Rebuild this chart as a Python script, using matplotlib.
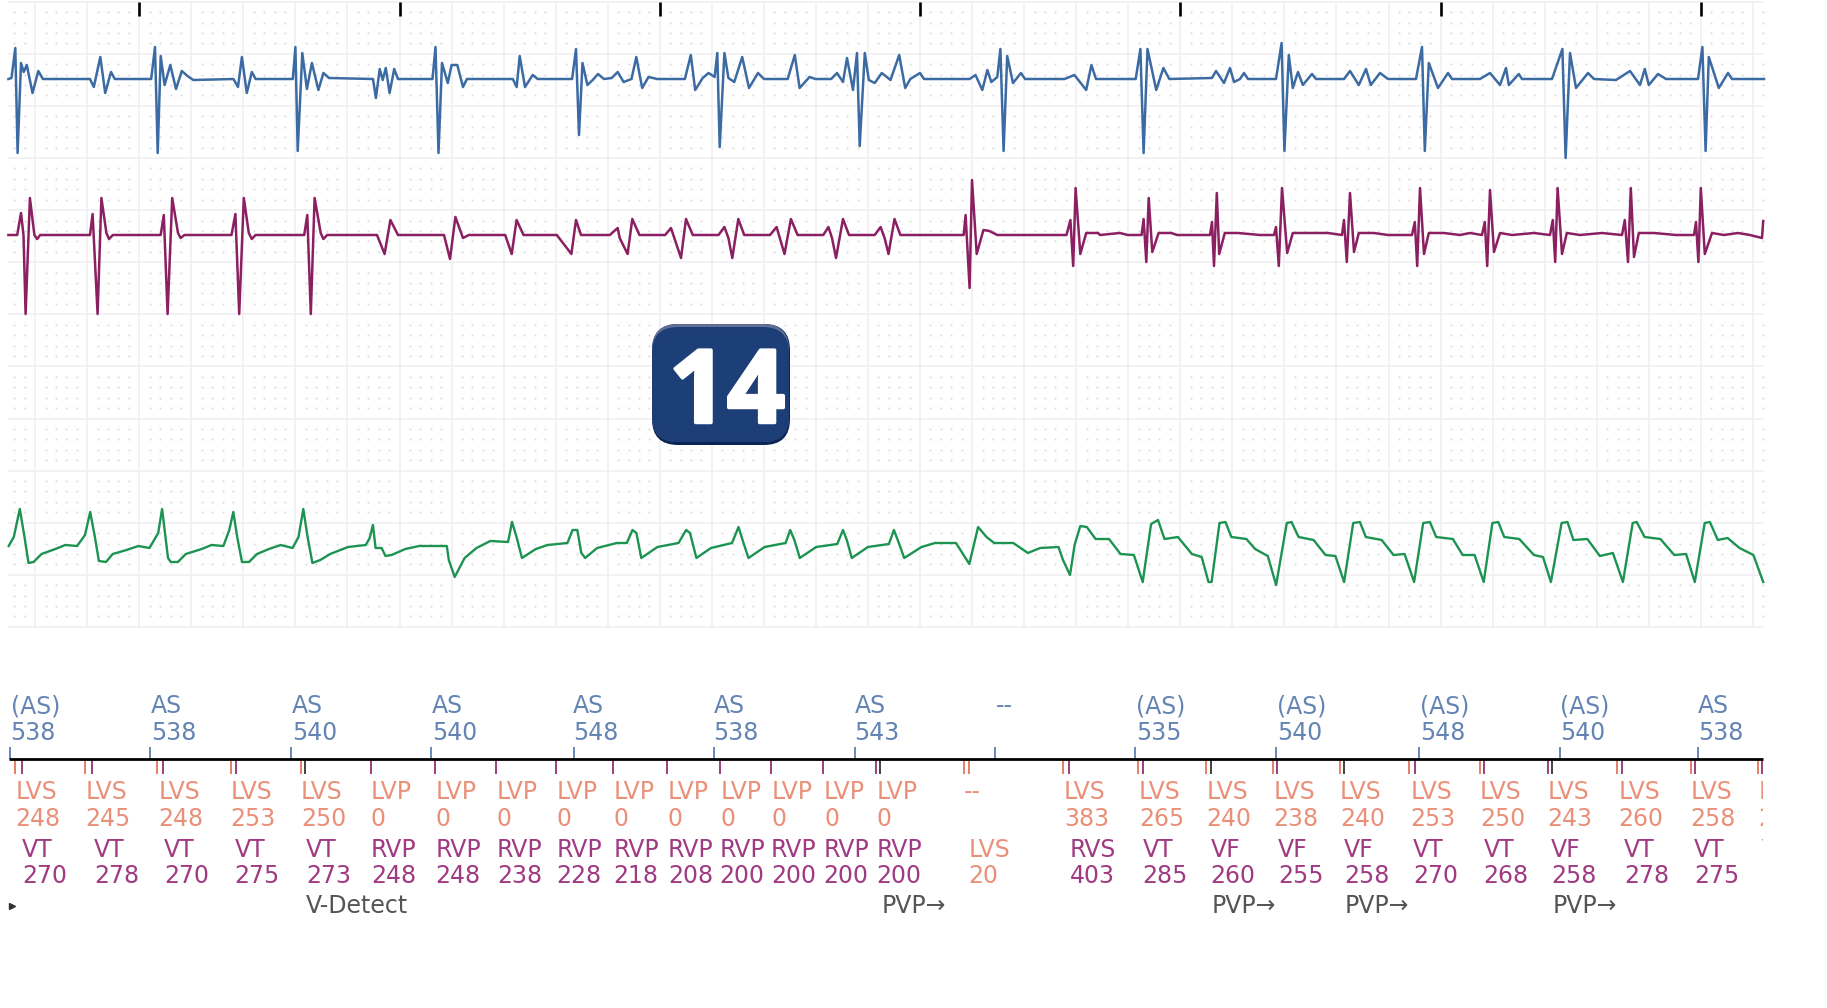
import numpy as np
import matplotlib
matplotlib.use("Agg")
import matplotlib.pyplot as plt
import matplotlib.patheffects as pe
from matplotlib.patches import FancyBboxPatch, Rectangle

# traces (x, y in image pixels)
blue_x = [8.4, 11.5, 15.3, 17.6, 21, 23.7, 26.8, 32.5, 38.3, 42.9, 90, 93.8, 100.3, 105.2, 111, 114.8,
          151.2, 155, 157.7, 160.7, 164.6, 170.3, 176, 181.8, 187.5, 193.3, 233.4, 238, 241.9, 246.8, 251.8, 255.6,
          292.8, 295.4, 297.7, 302.3, 306.9, 311.9, 318.4, 323.4, 329, 373, 375.9, 379.7, 382.7, 385.8, 389.6, 394.2, 398,
          432.5, 435.5, 438.5, 442, 447.8, 451.6, 457.3, 463, 466.9, 512.8, 516.7, 519.7, 525, 532.7, 537.7,
          572.1, 576, 579, 582.5, 587.4, 592.7, 598, 604, 611.7, 617.7, 623.6, 631.5, 636.3, 642.2, 648.5, 657.2,
          684.9, 690.8, 695.2, 702.7, 708.6, 714.6, 717.3, 719.7, 724.4, 728.4, 734.3, 742.2, 749, 758, 764,
          787.7, 794.8, 799.6, 809.5, 815.4, 831.2, 837, 843, 847, 853, 857, 859.7, 864.8, 868.8, 874.7, 881.8, 890.5,
          899.2, 905.2, 910.3, 920, 924, 969.6, 975.5, 982.3, 987.4, 991.3, 997.3, 1000.4, 1003.6, 1007.2, 1013, 1021, 1025,
          1064.5, 1074.4, 1086.2, 1091.4, 1096, 1135.7, 1140.4, 1143.6, 1147.5, 1156.2, 1163.4, 1169.3,
          1212, 1216, 1224, 1230, 1234, 1240, 1244, 1248, 1276, 1281.6, 1284.4, 1288.8, 1292.8, 1298, 1302.8, 1312, 1316,
          1344, 1350, 1358.8, 1366, 1370.8, 1380, 1388, 1416, 1422, 1424.8, 1428.8, 1438, 1448, 1452,
          1480, 1490, 1500, 1506, 1508.8, 1518.8, 1522, 1552, 1562.4, 1565.6, 1570, 1576, 1588, 1594,
          1616, 1630, 1640, 1644.8, 1648.8, 1658, 1666, 1698, 1702.4, 1705.6, 1708.8, 1718.8, 1728, 1732, 1764]
blue_y = [79, 78, 48, 153, 63, 72, 65, 93, 71, 79, 79, 87, 57, 93, 72, 79,
          79, 47, 153, 56, 85, 65, 89, 71, 76, 80, 79, 87, 57, 93, 72, 79,
          79, 47, 151, 53, 89, 63, 90, 73, 78, 79, 98, 69, 80, 68, 93, 69, 79,
          79, 47, 153, 63, 83, 65, 65, 87, 79, 79, 87, 56, 87, 75, 79,
          79, 49, 135, 63, 85, 80, 74, 79, 78, 72, 82, 79, 57, 88, 77, 79,
          79, 55, 90, 78, 73, 77, 53, 147, 53, 78, 82, 57, 88, 73, 79,
          79, 55, 88, 77, 79, 79, 73, 82, 58, 90, 53, 146, 53, 80, 83, 73, 80,
          55, 88, 79, 73, 79, 79, 75, 90, 70, 82, 77, 49, 151, 56, 83, 73, 79,
          79, 75, 90, 65, 79, 79, 49, 153, 49, 90, 68, 79,
          78, 71, 83, 68, 82, 79, 73, 79, 79, 43, 151, 55, 88, 72, 85, 74, 79,
          79, 71, 85, 69, 85, 73, 79, 79, 47, 151, 63, 88, 73, 79,
          79, 73, 85, 68, 85, 74, 79, 79, 49, 158, 53, 88, 73, 79,
          80, 71, 85, 69, 85, 74, 79, 79, 47, 151, 57, 88, 73, 79, 79]

maroon_x = [8.4, 17.2, 21, 23.5, 25.6, 29.9, 34.4, 37.1, 40.2, 90, 92.6, 97.6, 101.4, 106.4, 109, 112.9,
            160.7, 163.8, 167.6, 172.2, 178, 180.6, 184.5, 231.5, 235.4, 239.2, 243.8, 248.8, 251.8, 255.6,
            304.2, 307.3, 310.8, 314.6, 320.7, 323.4, 327.2, 377, 384.6, 390.4, 398, 444, 450, 455.4, 463, 468.8,
            505.2, 511.7, 516.6, 523.5, 556.8, 571.4, 576, 581, 609.8, 617.7, 619.7, 627.6, 632.3, 639.4,
            665.1, 671, 675, 681, 686, 692.8, 718.5, 724.4, 728.4, 732.3, 738.3, 744.2,
            770, 776.6, 779.8, 784.5, 790.9, 797.6, 823.3, 828.4, 832, 836, 843, 849,
            874.7, 880.6, 884.6, 888.5, 894.5, 900.4, 963.7, 965.6, 969.6, 972, 976.7, 983.4, 989.4, 997.3,
            1066.5, 1070.4, 1073.2, 1075.6, 1080.3, 1086.2, 1098, 1100, 1119.9, 1127.8, 1141.6, 1143.6, 1146.3, 1148.7, 1152.3, 1158.6, 1171.3, 1177.2,
            1210, 1212, 1214, 1216.8, 1219.2, 1224.8, 1238, 1260, 1274, 1276, 1278.8, 1282, 1287.2, 1292.8, 1306, 1328, 1342,
            1344, 1346.8, 1350, 1354, 1358.8, 1374, 1388, 1412, 1414.8, 1417.2, 1420, 1424, 1428.8, 1444, 1460, 1470, 1482,
            1484.8, 1487.2, 1490, 1494, 1500, 1512, 1534, 1550, 1552.8, 1555.2, 1557.6, 1562, 1566.8, 1580, 1602, 1622,
            1624.8, 1628, 1630.8, 1634, 1638.8, 1654, 1676, 1694, 1696, 1698.4, 1700.8, 1704.8, 1712, 1724, 1738, 1750, 1762, 1763.2]
maroon_y = [235, 235, 213, 235, 314, 198, 235, 239, 235, 235, 214, 314, 198, 233, 239, 235,
            235, 215, 314, 198, 233, 238, 235, 235, 214, 314, 198, 233, 239, 235,
            235, 215, 314, 198, 233, 239, 235, 235, 254, 220, 235, 235, 259, 217, 238, 235,
            235, 254, 220, 235, 235, 254, 220, 235, 235, 228, 238, 254, 219, 235,
            235, 228, 240, 258, 219, 235, 235, 227, 238, 258, 219, 235,
            235, 227, 238, 254, 219, 235, 235, 227, 238, 258, 219, 235,
            235, 227, 238, 254, 219, 235, 235, 215, 288, 180, 254, 230, 231, 235,
            235, 220, 266, 188, 254, 233, 233, 235, 233, 235, 235, 219, 262, 198, 252, 233, 233, 235,
            235, 222, 266, 193, 254, 233, 233, 235, 235, 227, 266, 188, 253, 233, 233, 233, 235,
            220, 262, 193, 252, 233, 233, 235, 235, 222, 266, 188, 254, 233, 233, 235, 233, 235,
            222, 266, 190, 252, 233, 235, 233, 235, 220, 262, 188, 254, 233, 235, 233, 235,
            220, 262, 188, 257, 233, 233, 235, 235, 222, 262, 188, 254, 233, 235, 233, 235, 238, 221]

green_x = [8.7, 13.8, 19.8, 24.5, 28.5, 33.6, 41.5, 55.4, 65.2, 77.1, 85, 90.2, 94.9, 98.9, 106, 112.7, 126.5, 138.4, 149.5,
           158.2, 162.1, 168, 170.8, 177.9, 185.8, 201.7, 211.5, 223.4, 229.3, 233.3, 237.2, 242, 249, 257, 268.9, 280.7, 292.6,
           298.5, 303.3, 307.6, 312.4, 320.3, 330.2, 348, 365.8, 369.7, 372.9, 375.6, 381.6, 385.5, 391.5, 405.3, 419.1, 446.8,
           448.8, 454.7, 464.6, 476.5, 490.3, 508.1, 512, 516, 522, 535.8, 547.6, 567.4, 572.6, 577.3, 581.3, 585.2, 597.1, 616.8,
           626.8, 632.5, 636.4, 641.3, 657.4, 678.5, 686.1, 690, 696.4, 711, 732, 738.5, 743.5, 748.5, 764.6, 785.6, 790.2, 794.4, 799.8,
           816.2, 837.3, 843, 846.8, 851.8, 867.9, 888.9, 893.9, 898.5, 904.2, 921.5, 934.9, 956, 969.3, 978.1, 986.5, 994.2, 1013.3,
           1027.9, 1040.1, 1058.5, 1063, 1070, 1074.6, 1080.3, 1086.8, 1095.6, 1109, 1120.5, 1133.9, 1142.7, 1151.1, 1158, 1164.5, 1177.9,
           1191.9, 1201.7, 1208.5, 1211.6, 1219.5, 1225.5, 1231.4, 1246.4, 1255.1, 1267.8, 1276.1, 1286.8, 1291.5, 1298.6, 1313.6, 1325.5, 1335.4,
           1344.1, 1353.2, 1359.9, 1365.8, 1381.7, 1393.5, 1404.6, 1414.1, 1423.2, 1429.9, 1436.2, 1452.8, 1462.7, 1474.6,
           1483.7, 1492.4, 1498.3, 1504.2, 1519.3, 1533.9, 1543, 1550.9, 1561.6, 1567.5, 1573.4, 1587.3, 1599.9, 1612.9,
           1622.9, 1632.7, 1636.7, 1644.6, 1660.4, 1674.3, 1686.1, 1694.8, 1704.7, 1709.9, 1717.8, 1727.6, 1739.5, 1753.4, 1763.2]
green_y = [546, 537, 509, 537, 563, 562, 554, 549, 545, 546, 535, 512, 537, 561, 562, 554, 550, 546, 548,
           533, 509, 558, 562, 562, 554, 549, 545, 546, 530, 512, 537, 562, 562, 554, 549, 545, 548,
           537, 509, 537, 563, 560, 554, 547, 545, 538, 525, 548, 548, 556, 555, 549, 546, 546,
           560, 577, 558, 548, 541, 542, 522, 535, 558, 549, 545, 543, 530, 530, 553, 558, 548, 543,
           543, 530, 533, 558, 547, 543, 530, 533, 558, 548, 543, 527, 543, 558, 547, 543, 530, 540, 558,
           547, 544, 530, 540, 558, 547, 544, 530, 542, 558, 547, 543, 543, 564, 527, 537, 543, 543,
           553, 548, 547, 560, 575, 545, 526, 527, 539, 539, 554, 555, 582, 524, 520, 539, 537,
           554, 557, 582, 582, 523, 522, 537, 539, 549, 556, 585, 523, 522, 537, 540, 555, 556,
           582, 523, 522, 537, 540, 555, 554, 582, 523, 522, 537, 539, 555, 555,
           582, 523, 522, 537, 539, 555, 557, 582, 523, 522, 540, 539, 556, 553,
           582, 523, 522, 537, 539, 555, 554, 582, 523, 522, 540, 538, 548, 555, 582]

# annotation rows
atrial_names = ["(AS)", "AS", "AS", "AS", "AS", "AS", "AS", "--", "(AS)", "(AS)", "(AS)", "(AS)", "AS"]
atrial_vals = ["538", "538", "540", "540", "548", "538", "543", "", "535", "540", "548", "540", "538"]
lv_names = ["LVS"] * 5 + ["LVP"] * 10 + ["--"] + ["LVS"] * 11
lv_vals = ["248", "245", "248", "253", "250"] + ["0"] * 10 + ["", "383", "265", "240", "238", "240", "253",
                                                              "250", "243", "260", "258", "250"]
rv_names = ["VT"] * 5 + ["RVP"] * 10 + ["LVS", "RVS", "VT", "VF", "VF", "VF", "VT", "VT", "VF", "VT", "VT", "VT"]
rv_vals = ["270", "278", "270", "275", "273", "248", "248", "238", "228", "218", "208", "200", "200", "200", "200",
           "20", "403", "285", "260", "255", "258", "270", "268", "258", "278", "275", "270"]
event_labels = ["V-Detect", "PVP→", "PVP→", "PVP→", "PVP→"]
badge_label = "14"

# label and tick positions
atrial_text_x = [10.6, 150.8, 291.7, 432, 573, 713.6, 854.5, 996, 1136.5, 1277, 1420, 1560.5, 1698]
atrial_tick_x = [10, 150, 290.5, 431, 574, 714, 855, 995, 1135, 1276, 1419, 1560, 1698]
lv_text_x = [15.3, 85.7, 158.5, 230.6, 301, 370.9, 435.4, 496.5, 556.3, 613.3, 667.8, 720.7, 771.7, 824, 876.2,
             963.9, 1063.8, 1138.9, 1206.3, 1273.2, 1340, 1410.3, 1480.1, 1547.5, 1618.5, 1690.7, 1758.7]
rv_text_x = [22.3, 93.9, 164.3, 234.7, 306.3, 370.9, 435.4, 497, 556.3, 613.3, 667.8, 719.5, 771.1, 823.4, 876.2,
             968.6, 1069.7, 1142.5, 1210.5, 1277.9, 1344.1, 1413.3, 1483.7, 1551.1, 1623.8, 1694.2, 1762.2]
event_x = [306, 881.5, 1212, 1345, 1553]
orange_ticks = [14.7, 85.1, 157.3, 230.6, 301, 963.9, 968.6, 1063.2, 1138.3, 1206.3, 1272.6, 1340, 1409.2, 1480.1,
                1617.3, 1690.7, 1757.5]
maroon_ticks = [21.7, 92.1, 162.6, 235.9, 370.9, 435.4, 495.9, 555.8, 612.7, 667.3, 719.5, 771.1, 823.4, 875.6,
                1068.5, 1142.5, 1276.7, 1414.5, 1484.3, 1548.1, 1622, 1695.4, 1761.6]
black_ticks = [305.2, 880.3, 1211, 1344.1, 1551.7]

BLUE = "#3c6ba3"
MAROON = "#8a1f62"
GREEN = "#1c9350"
BLUE_TXT = "#6485b3"
ORANGE_TXT = "#ea9079"
MAROON_TXT = "#a03a82"
DARK_TXT = "#555555"
FS = 17

fig = plt.figure(figsize=(18.27, 10.08), dpi=100)
ax = fig.add_axes([0, 0, 1, 1])
ax.set_xlim(0, 1827)
ax.set_ylim(1008, 0)
ax.axis("off")

# paper grid
left, right, top, bottom = 8, 1764, 1.7, 627
grid_x = 35.2 + 52.05 * np.arange(0, 34)
grid_y = 1.7 + 52.1 * np.arange(0, 13)
ax.vlines(grid_x, top, bottom, color="#f0f0f2", lw=1.2, zorder=1)
ax.hlines(grid_y, left, right, color="#f0f0f2", lw=1.2, zorder=1)
dot_x = (35.2 + 52.05 * np.arange(-1, 34))[:, None] + 10.41 * np.arange(1, 5)
dot_y = (1.7 + 52.1 * np.arange(0, 12))[:, None] + 10.42 * np.arange(1, 5)
dx, dy = np.meshgrid(dot_x.ravel(), dot_y.ravel())
keep = (dx > left + 4) & (dx < right)
ax.scatter(dx[keep], dy[keep], s=2.4, color="#dedee0", linewidths=0, zorder=1)

# paper speed marks along the top
ax.vlines(grid_x[2::5], 2, 16, color="black", lw=1.9, zorder=2)

ax.plot(blue_x, blue_y, color=BLUE, lw=1.8, zorder=3)
ax.plot(maroon_x, maroon_y, color=MAROON, lw=1.8, zorder=3)
ax.plot(green_x, green_y, color=GREEN, lw=1.7, zorder=3)

# marker channel
ax.hlines(759.3, 9, 1763, color="black", lw=2, zorder=4)
ax.vlines(atrial_tick_x, 747, 759.3, color=BLUE, lw=1.1, zorder=3)
ax.vlines(orange_ticks, 759.3, 774, color="#e0694a", lw=1.2, zorder=3)
ax.vlines(maroon_ticks, 759.3, 774, color=MAROON, lw=1.2, zorder=3)
ax.vlines(black_ticks, 759.3, 774, color="#222222", lw=1.2, zorder=3)

clip = Rectangle((0, 0), 1763, 1008, transform=ax.transData)


def put(x, y, s, color):
    t = ax.text(x, y, s, color=color, fontsize=FS, ha="left", va="baseline", zorder=5)
    t.set_clip_on(True)
    t.set_clip_path(clip)
    return t


for x, name, val in zip(atrial_text_x, atrial_names, atrial_vals):
    put(x, 713.3, name, BLUE_TXT)
    put(x, 740, val, BLUE_TXT)

for x, name, val in zip(lv_text_x, lv_names, lv_vals):
    put(x, 799.3, name, ORANGE_TXT)
    put(x, 825.7, val, ORANGE_TXT)

for x, name, val in zip(rv_text_x, rv_names, rv_vals):
    c = ORANGE_TXT if name == "LVS" else MAROON_TXT
    put(x, 856.7, name, c)
    put(x, 882.7, val, c)

for x, s in zip(event_x, event_labels):
    put(x, 913.3, s, DARK_TXT)
ax.plot([12], [906], marker=">", ms=4, color="#333333", zorder=5)

# numbered badge
def badge(x0, y0, x1, y1, color, z):
    ax.add_patch(FancyBboxPatch((x0 + 26, y0 + 26), x1 - x0 - 52, y1 - y0 - 52,
                                boxstyle="round,pad=26,rounding_size=26",
                                fc=color, ec="none", zorder=z))


badge(652, 324, 790, 445, "#0b2557", 6)
badge(652, 324, 789, 442, "#5f7096", 6.1)
badge(652, 327, 789, 442, "#1c3d75", 6.2)
badge(655, 329, 786, 439, "#1d3f78", 6.3)
ax.text(727, 384, badge_label, color="white", fontsize=73, fontweight="bold", family="Open Sans",
        ha="center", va="center_baseline", zorder=7,
        path_effects=[pe.withStroke(linewidth=2.5, foreground="white")])

fig.savefig("out.png", dpi=100, facecolor="white")
